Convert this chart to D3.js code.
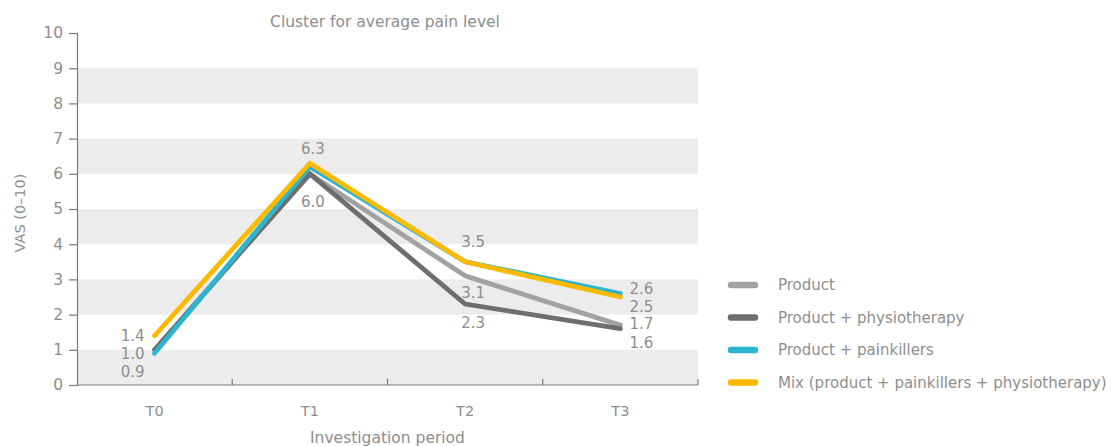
<!DOCTYPE html>
<html>
<head>
<meta charset="utf-8">
<script src="https://cdn.jsdelivr.net/npm/d3@7"></script>
<style>
  body { margin: 0; background: #fff; }
  svg text { font-family: "DejaVu Sans", sans-serif; font-weight: 400; fill: #8e8e8e; }
</style>
</head>
<body>
<div id="chart"></div>
<script>
const periods = ["T0", "T1", "T2", "T3"];
const seriesNames = ["Product", "Product + physiotherapy", "Product + painkillers", "Mix (product + painkillers + physiotherapy)"];
const seriesColors = ["#a2a2a2", "#6e6e6e", "#2db5cf", "#fbb900"];
const productValues = [1.0, 6.0, 3.1, 1.7];
const physioValues = [1.0, 6.0, 2.3, 1.6];
const painkillerValues = [0.9, 6.2, 3.5, 2.6];
const mixValues = [1.4, 6.3, 3.5, 2.5];
const yTicks = [0, 1, 2, 3, 4, 5, 6, 7, 8, 9, 10];

// value labels: [series, period, text]
const valueLabels = [
    [3, 0, "1.4"], [0, 0, "1.0"], [2, 0, "0.9"],
    [3, 1, "6.3"], [1, 1, "6.0"],
    [3, 2, "3.5"], [0, 2, "3.1"], [1, 2, "2.3"],
    [2, 3, "2.6"], [3, 3, "2.5"], [0, 3, "1.7"], [1, 3, "1.6"]
];
// label placement offsets relative to the point (dx, dy, anchor)
const labelPlace = [
    [-10, 5, "end"], [-10, 9, "end"], [-10, 24, "end"],
    [3, -9, "middle"], [3, 33, "middle"],
    [8, -15, "middle"], [8, 22, "middle"], [8, 24, "middle"],
    [9, 1, "start"], [9, 15, "start"], [9, 4, "start"], [9, 19, "start"]
];

const allValues = [productValues, physioValues, painkillerValues, mixValues];

const W = 1114, H = 446;
const margin = { top: 33, right: 416, bottom: 61, left: 77 };
const width = W - margin.left - margin.right;
const height = H - margin.top - margin.bottom;

const svg = d3.select("#chart").append("svg")
    .attr("width", W)
    .attr("height", H);

const g = svg.append("g").attr("transform", `translate(${margin.left},${margin.top})`);

const x = d3.scaleBand().domain(periods).range([0, width]);
const y = d3.scaleLinear().domain([0, 10]).range([height, 0]);

// alternating bands
g.selectAll(".band")
    .data(yTicks.filter(d => d % 2 === 0 && d < 10))
    .enter().append("rect")
    .attr("x", 0)
    .attr("width", width)
    .attr("y", d => y(d + 1))
    .attr("height", d => y(d) - y(d + 1))
    .attr("fill", "#ebeceb");

// y axis
const yAxis = g.append("g")
    .call(d3.axisLeft(y).tickValues(yTicks).tickSize(8).tickPadding(6));
yAxis.select(".domain").attr("stroke", "#7a7a7a").attr("stroke-width", 1.2);
yAxis.selectAll(".tick line").attr("stroke", "#7a7a7a").attr("stroke-width", 1.2);
yAxis.selectAll("text").style("font-size", "15.5px").style("font-family", "DejaVu Sans").style("font-weight", 400).style("fill", "#8e8e8e");

// x axis: baseline plus inner ticks at band edges
const xAxis = g.append("g").attr("transform", `translate(0,${height})`);
xAxis.append("line")
    .attr("x1", 0).attr("x2", width)
    .attr("stroke", "#7a7a7a").attr("stroke-width", 1.2);
xAxis.selectAll(".xtick")
    .data(periods)
    .enter().append("line")
    .attr("x1", d => x(d) + x.bandwidth())
    .attr("x2", d => x(d) + x.bandwidth())
    .attr("y1", 0).attr("y2", -6)
    .attr("stroke", "#7a7a7a").attr("stroke-width", 1.2);
xAxis.selectAll(".xlabel")
    .data(periods)
    .enter().append("text")
    .attr("x", d => x(d) + x.bandwidth() / 2)
    .attr("y", 31)
    .attr("text-anchor", "middle")
    .style("font-size", "14.5px")
    .text(d => d);

// lines
const line = d3.line()
    .x((d, i) => x(periods[i]) + x.bandwidth() / 2)
    .y(d => y(d));

g.selectAll(".series")
    .data(allValues)
    .enter().append("path")
    .attr("fill", "none")
    .attr("stroke", (d, i) => seriesColors[i])
    .attr("stroke-width", 4.8)
    .attr("stroke-linecap", "round")
    .attr("stroke-linejoin", "miter")
    .attr("d", line);

// value labels
g.selectAll(".vlabel")
    .data(valueLabels)
    .enter().append("text")
    .attr("x", (d, i) => x(periods[d[1]]) + x.bandwidth() / 2 + labelPlace[i][0])
    .attr("y", (d, i) => y(allValues[d[0]][d[1]]) + labelPlace[i][1])
    .attr("text-anchor", (d, i) => labelPlace[i][2])
    .style("font-size", "15px")
    .text(d => d[2]);

// titles
svg.append("text")
    .attr("x", 385).attr("y", 27)
    .attr("text-anchor", "middle")
    .style("font-size", "15.5px")
    .text("Cluster for average pain level");

svg.append("text")
    .attr("x", margin.left + width / 2).attr("y", 443)
    .attr("text-anchor", "middle")
    .style("font-size", "15.5px")
    .text("Investigation period");

svg.append("text")
    .attr("transform", `translate(25,${margin.top + height / 2 + 4}) rotate(-90)`)
    .attr("text-anchor", "middle")
    .style("font-size", "14.5px")
    .text("VAS (0–10)");

// legend
const legend = svg.append("g").attr("transform", "translate(729,285)");
const item = legend.selectAll(".item")
    .data(seriesNames)
    .enter().append("g")
    .attr("transform", (d, i) => `translate(0,${i * 32.5})`);
item.append("line")
    .attr("x1", 2).attr("x2", 26)
    .attr("stroke", (d, i) => seriesColors[i])
    .attr("stroke-width", 6.5)
    .attr("stroke-linecap", "round");
item.append("text")
    .attr("x", 49).attr("y", 5)
    .style("font-size", "15px")
    .text(d => d);
</script>
</body>
</html>
